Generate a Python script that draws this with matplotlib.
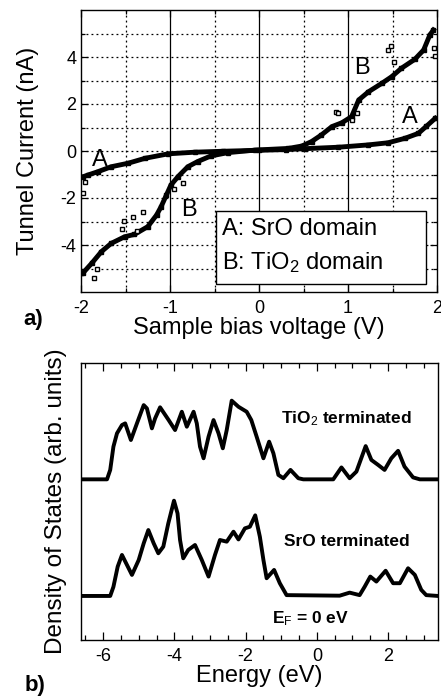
import matplotlib
matplotlib.use("Agg")
import matplotlib.pyplot as plt
from matplotlib.patches import Rectangle

plt.rcParams['font.family'] = ['Liberation Sans', 'DejaVu Sans']
plt.rcParams['mathtext.fontset'] = 'custom'
plt.rcParams['mathtext.rm'] = 'Liberation Sans'
plt.rcParams['mathtext.it'] = 'Liberation Sans'
plt.rcParams['mathtext.bf'] = 'Liberation Sans:bold'

# ---------------- panel a) I-V data ----------------
iv_a_v = [-1.98, -1.92, -1.81, -1.66, -1.47, -1.28, -1.02, -0.72, -0.40, 0.0, 0.30,
          0.52, 0.89, 1.23, 1.45, 1.64, 1.79, 1.88, 1.98]
iv_a_i = [-1.10, -1.02, -0.88, -0.67, -0.52, -0.31, -0.12, -0.05, -0.01, 0.03, 0.06,
          0.10, 0.16, 0.26, 0.35, 0.54, 0.75, 1.05, 1.39]

iv_b_v = [-1.98, -1.88, -1.77, -1.66, -1.51, -1.40, -1.25, -1.15, -1.10, -1.04, -0.99,
          -0.91, -0.80, -0.69, -0.54, -0.35, -0.04, 0.33, 0.48, 0.59, 0.70, 0.82,
          0.93, 1.04, 1.12, 1.23, 1.38, 1.49, 1.60, 1.75, 1.85, 1.92, 1.96]
iv_b_i = [-5.20, -4.78, -4.28, -3.93, -3.65, -3.55, -3.22, -2.72, -2.37, -1.87, -1.45,
          -1.09, -0.67, -0.45, -0.21, -0.07, 0.04, 0.11, 0.21, 0.40, 0.68, 1.04,
          1.20, 1.46, 2.17, 2.52, 2.88, 3.16, 3.52, 3.90, 4.30, 4.94, 5.15]

scatter_v = [-1.98, -1.95, -1.85, -1.82, -1.54, -1.52, -1.42, -1.37, -1.30, -0.85,
             -0.95, 0.87, 0.89, 1.10, 1.05, 1.45, 1.48, 1.52, 1.97, 1.98]
scatter_i = [-1.80, -1.30, -5.40, -5.00, -3.30, -2.96, -2.80, -3.40, -2.60, -1.36,
             -1.60, 1.67, 1.62, 1.60, 1.30, 4.30, 4.45, 3.80, 4.40, 4.05]

labels_iv = ["A", "B", "B", "A"]
labels_iv_v = [-1.79, -0.79, 1.16, 1.69]
labels_iv_i = [-0.40, -2.51, 3.52, 1.46]

legend_lines = ["A: SrO domain", r"B: TiO$_2$ domain"]

xticks_a = [-2, -1, 0, 1, 2]
yticks_a = [-4, -2, 0, 2, 4]

# ---------------- panel b) DOS data ----------------
e_tio2 = [-6.62, -5.89, -5.80, -5.71, -5.61, -5.47, -5.38, -5.22, -5.05, -4.86, -4.77,
          -4.63, -4.54, -4.40, -4.16, -3.98, -3.79, -3.65, -3.46, -3.37, -3.28, -3.18,
          -3.04, -2.90, -2.76, -2.64, -2.53, -2.39, -2.20, -1.97, -1.84, -1.69, -1.50,
          -1.34, -1.22, -1.08, -0.94, -0.74, -0.52, -0.38, 0.46, 0.69, 0.92, 1.11,
          1.37, 1.53, 1.72, 1.90, 2.09, 2.28, 2.46, 2.70, 2.89, 3.40]
d_tio2 = [5.80, 5.80, 6.14, 6.98, 7.46, 7.76, 7.82, 7.22, 7.82, 8.48, 8.36,
          7.64, 8.00, 8.40, 7.94, 7.58, 8.24, 7.70, 8.24, 7.82, 6.98, 6.56,
          7.34, 7.94, 7.46, 6.92, 7.58, 8.64, 8.42, 8.24, 7.94, 7.34, 6.56,
          7.16, 6.74, 5.96, 5.84, 6.14, 5.84, 5.80, 5.80, 6.23, 5.84, 6.08,
          7.00, 6.50, 6.32, 6.14, 6.56, 6.83, 6.26, 5.87, 5.80, 5.80]

e_sro = [-6.62, -5.80, -5.71, -5.59, -5.47, -5.33, -5.19, -5.00, -4.86, -4.73, -4.58,
         -4.45, -4.31, -4.17, -4.01, -3.91, -3.84, -3.75, -3.61, -3.42, -3.23, -3.04,
         -2.86, -2.72, -2.53, -2.34, -2.20, -2.02, -1.88, -1.73, -1.60, -1.50, -1.41,
         -1.20, -1.04, -0.85, 0.64, 0.92, 1.20, 1.34, 1.50, 1.67, 1.93, 2.14, 2.33,
         2.56, 2.75, 2.93, 3.07, 3.40]
d_sro = [1.59, 1.59, 1.92, 2.65, 3.07, 2.71, 2.35, 2.89, 3.49, 3.97, 3.49,
         3.13, 3.37, 4.21, 5.03, 4.57, 3.61, 2.95, 3.25, 3.43, 2.89, 2.29,
         3.07, 3.61, 3.55, 3.91, 3.63, 4.03, 4.09, 4.50, 3.73, 2.89, 2.23,
         2.53, 2.05, 1.62, 1.60, 1.71, 1.62, 1.92, 2.29, 2.11, 2.50, 2.05, 2.05,
         2.59, 2.35, 1.81, 1.62, 1.59]

xticks_b = [-6, -4, -2, 0, 2]

# ---------------- figure ----------------
fig = plt.figure(figsize=(4.41, 7.00), dpi=100)

ax1 = fig.add_axes([81 / 441, 1 - 292 / 700, 356 / 441, 282 / 700])
ax1.set_xlim(-2, 2)
ax1.set_ylim(-6, 6)

for xv in [-1.5, -0.5, 0.5, 1.5]:
    ax1.axvline(xv, color='black', lw=0.9, ls=(0, (1.5, 2.5)), zorder=1)
for xv in [-1, 0, 1]:
    ax1.axvline(xv, color='black', lw=0.9, zorder=1)
for yv in range(-5, 6):
    ax1.axhline(yv, color='black', lw=0.9, ls=(0, (1.5, 2.5)), zorder=1)

ax1.plot(iv_a_v, iv_a_i, color='black', lw=3.5, zorder=3)
ax1.plot(iv_a_v, iv_a_i, 's', color='black', ms=3.5, zorder=3)
ax1.plot(iv_b_v, iv_b_i, color='black', lw=3.5, zorder=3)
ax1.plot(iv_b_v, iv_b_i, 's', color='black', ms=3.5, zorder=3)
ax1.plot(scatter_v, scatter_i, 's', mfc='white', mec='black', ms=3, mew=1, zorder=3)

for t, xv, yv in zip(labels_iv, labels_iv_v, labels_iv_i):
    ax1.text(xv, yv, t, fontsize=17, ha='center', va='center', zorder=4)

ax1.add_patch(Rectangle((0.379, 0.028), 0.590, 0.260, transform=ax1.transAxes,
                        facecolor='white', edgecolor='black', lw=1.0, zorder=5))
ax1.text(0.395, 0.223, legend_lines[0], transform=ax1.transAxes, fontsize=17,
         ha='left', va='center', zorder=6)
ax1.text(0.395, 0.105, legend_lines[1], transform=ax1.transAxes, fontsize=17,
         ha='left', va='center', zorder=6)

ax1.set_xticks(xticks_a)
ax1.set_xticklabels([str(v) for v in xticks_a])
ax1.set_yticks(yticks_a)
ax1.set_yticklabels([str(v) for v in yticks_a])
ax1.set_yticks(range(-5, 6), minor=True)
ax1.set_xticks([-1.5, -0.5, 0.5, 1.5], minor=True)
ax1.tick_params(which='both', direction='in', top=True, right=True, labelsize=13,
                width=0.9, colors='black')
ax1.tick_params(which='major', length=5)
ax1.tick_params(which='minor', length=3)
ax1.tick_params(axis='x', pad=6)
for s in ax1.spines.values():
    s.set_linewidth(1.0)
ax1.set_xlabel("Sample bias voltage (V)", fontsize=17, labelpad=0)
ax1.set_ylabel("Tunnel Current (nA)", fontsize=17, labelpad=15)
fig.text(23 / 441, 1 - 320 / 700, "a)", fontsize=16, fontweight='bold',
         ha='left', va='center')

# ---------------- panel b ----------------
ax2 = fig.add_axes([81 / 441, 1 - 640 / 700, 357 / 441, 277 / 700])
ax2.set_xlim(-6.62, 3.40)
ax2.set_ylim(0, 10)
ax2.plot(e_tio2, d_tio2, color='black', lw=2.8, solid_joinstyle='round')
ax2.plot(e_sro, d_sro, color='black', lw=2.8, solid_joinstyle='round')

ax2.text(0.84, 8.0, r"TiO$_2$ terminated", fontsize=12.5, fontweight='bold',
         ha='center', va='center')
ax2.text(0.84, 3.55, "SrO terminated", fontsize=12.5, fontweight='bold',
         ha='center', va='center')
ax2.text(-1.26, 0.62, r"E$_F$ = 0 eV", fontsize=12.5, fontweight='bold',
         ha='left', va='baseline')

ax2.set_xticks(xticks_b)
ax2.set_xticklabels([str(v) for v in xticks_b])
ax2.set_xticks([v / 2 for v in range(-13, 7)], minor=True)
ax2.set_yticks([])
ax2.tick_params(which='both', direction='in', top=True, labelsize=13, width=0.9)
ax2.tick_params(which='major', length=6)
ax2.tick_params(which='minor', length=3.5)
ax2.tick_params(axis='x', pad=6)
for s in ax2.spines.values():
    s.set_linewidth(1.0)
ax2.set_xlabel("Energy (eV)", fontsize=17, labelpad=0)
ax2.set_ylabel("Density of States (arb. units)", fontsize=17.5, labelpad=10)
fig.text(25 / 441, 1 - 685 / 700, "b)", fontsize=16, fontweight='bold',
         ha='left', va='center')

fig.savefig("out.png", dpi=100)
